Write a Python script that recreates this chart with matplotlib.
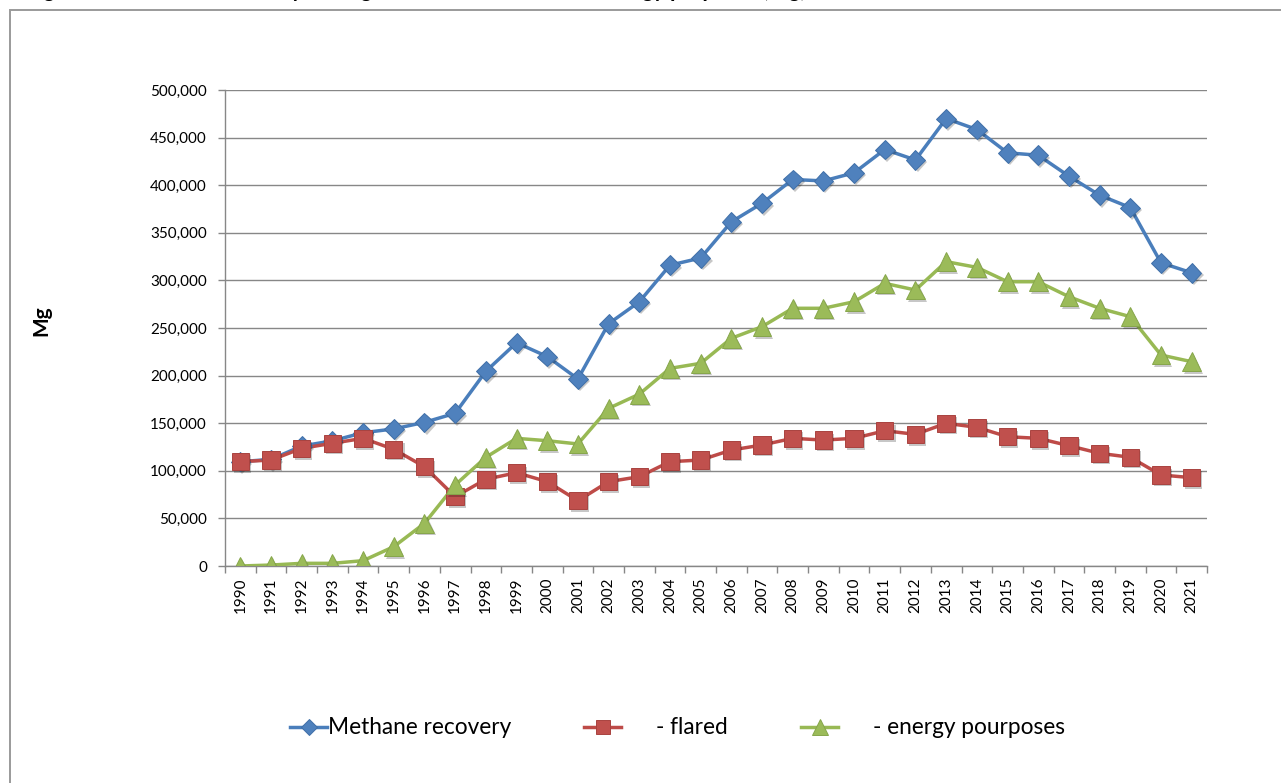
import matplotlib
matplotlib.use("Agg")
import matplotlib.pyplot as plt
import matplotlib.patheffects as pe
from matplotlib.lines import Line2D
from matplotlib.patches import Rectangle
from matplotlib.ticker import FuncFormatter, FixedLocator

plt.rcParams['font.family'] = ['Lato', 'DejaVu Sans']

# Data (Mg)
years = list(range(1990, 2022))
methane_recovery = [109600, 112000, 126000, 131500, 140000, 144000, 150900, 160400,
                    204500, 234500, 220000, 196500, 254500, 277500, 316000, 323500,
                    361500, 381000, 406000, 404500, 413000, 437500, 426500, 470000,
                    458500, 434000, 431500, 409500, 389500, 376500, 318500, 308000]
flared = [109600, 111300, 123600, 128900, 134100, 122600, 104300, 72800,
          91100, 98000, 88600, 68600, 88600, 93800, 109600, 111300,
          121800, 127100, 134100, 132300, 134100, 142100, 138300, 149900,
          145700, 135800, 134100, 126400, 118400, 114200, 95600, 92800]
energy = [0, 1000, 2800, 2800, 5600, 20300, 44800, 85100,
          114200, 134100, 131600, 128200, 165600, 180500, 207600, 212900,
          239200, 251400, 270700, 270700, 277600, 296900, 289900, 319700,
          313700, 298600, 298600, 282900, 270700, 261900, 221600, 214600]
series_labels = ["Methane recovery", "- flared", "- energy pourposes"]
y_ticks = list(range(0, 500001, 50000))

W, H = 1281, 783
fig = plt.figure(figsize=(W / 100, H / 100), dpi=100)
fig.patch.set_facecolor('white')

# chart frame
fig.patches.append(Rectangle((9.5 / W, -0.2), 1.5, 1.2 - 10 / H, transform=fig.transFigure,
                             fill=False, edgecolor='#9a9a9a', linewidth=1.4, zorder=0))

# caption, clipped by the top edge
fig.text(26 / W, 1 + 3 / H,
         "Figure 7.3 Methane recovery through the flare and used for energy purposes (Mg)",
         fontsize=15.5, fontweight='bold', color='black', ha='left', va='baseline')

left, right, top, bottom = 225, 1207, 90, 566
ax = fig.add_axes([left / W, 1 - bottom / H, (right - left) / W, (bottom - top) / H])

grid_c = '#878787'
x = list(range(len(years)))

styles = [
    dict(data=methane_recovery, color='#4A7EBB', mfc='#4F81BD', mec='#3F6FA8', marker='D', ms=10),
    dict(data=flared, color='#BE4B48', mfc='#C0504D', mec='#A9423F', marker='s', ms=12.5),
    dict(data=energy, color='#98B954', mfc='#9BBB59', mec='#86A64A', marker='^', ms=13.5),
]

shadow = [pe.SimplePatchShadow(offset=(1.5, -1.8), shadow_rgbFace='black', alpha=0.22), pe.Normal()]
for i, s in enumerate(styles):
    ax.plot(x, s['data'], color=s['color'], lw=2.5, solid_joinstyle='round', zorder=3 + i)
for i, s in enumerate(styles):
    ax.plot(x, s['data'], linestyle='none', marker=s['marker'], ms=s['ms'],
            mfc=s['mfc'], mec=s['mec'], mew=0.7, zorder=6 + i, path_effects=shadow)

ax.set_xlim(-0.5, len(years) - 0.5)
ax.set_ylim(0, 500000)
ax.yaxis.set_major_locator(FixedLocator(y_ticks))
ax.yaxis.set_major_formatter(FuncFormatter(lambda v, p: f"{v:,.0f}"))
ax.set_xticks(x)
ax.set_xticklabels([str(y) for y in years], rotation=90)
ax.set_xticks([i - 0.5 for i in range(len(years) + 1)], minor=True)
ax.tick_params(axis='x', which='major', length=0, pad=8, labelsize=11, colors='black')
ax.tick_params(axis='x', which='minor', length=5, width=1, color=grid_c, direction='out')
ax.tick_params(axis='y', which='major', length=5, width=1, color=grid_c, pad=8,
               labelsize=11, labelcolor='black')

for sp in ['top', 'right']:
    ax.spines[sp].set_visible(False)
for sp in ['left', 'bottom']:
    ax.spines[sp].set_color(grid_c)
    ax.spines[sp].set_linewidth(1)
    ax.spines[sp].set_zorder(2)

ax.grid(axis='y', color=grid_c, linewidth=1, zorder=1)
ax.set_axisbelow(True)

fig.text(41 / W, 1 - 321 / H, "Mg", rotation=90, fontsize=15, fontweight='bold',
         ha='center', va='center')

# legend entries placed individually
legend_spec = [(290, 0.05), (584, 1.55), (801, 1.55)]
for s, lab, (xpx, pad) in zip(styles, series_labels, legend_spec):
    h = Line2D([], [], color=s['color'], lw=2.5, marker=s['marker'], ms=s['ms'] * 0.85,
               mfc=s['mfc'], mec=s['mec'], mew=0.7)
    leg = fig.legend([h], [lab], loc='center left', bbox_to_anchor=(xpx / W, 1 - 728 / H),
                     frameon=False, fontsize=16.3, handlelength=1.65, handletextpad=pad,
                     borderpad=0, borderaxespad=0, markerscale=1.0)

fig.savefig("out.png", dpi=100, facecolor='white')
